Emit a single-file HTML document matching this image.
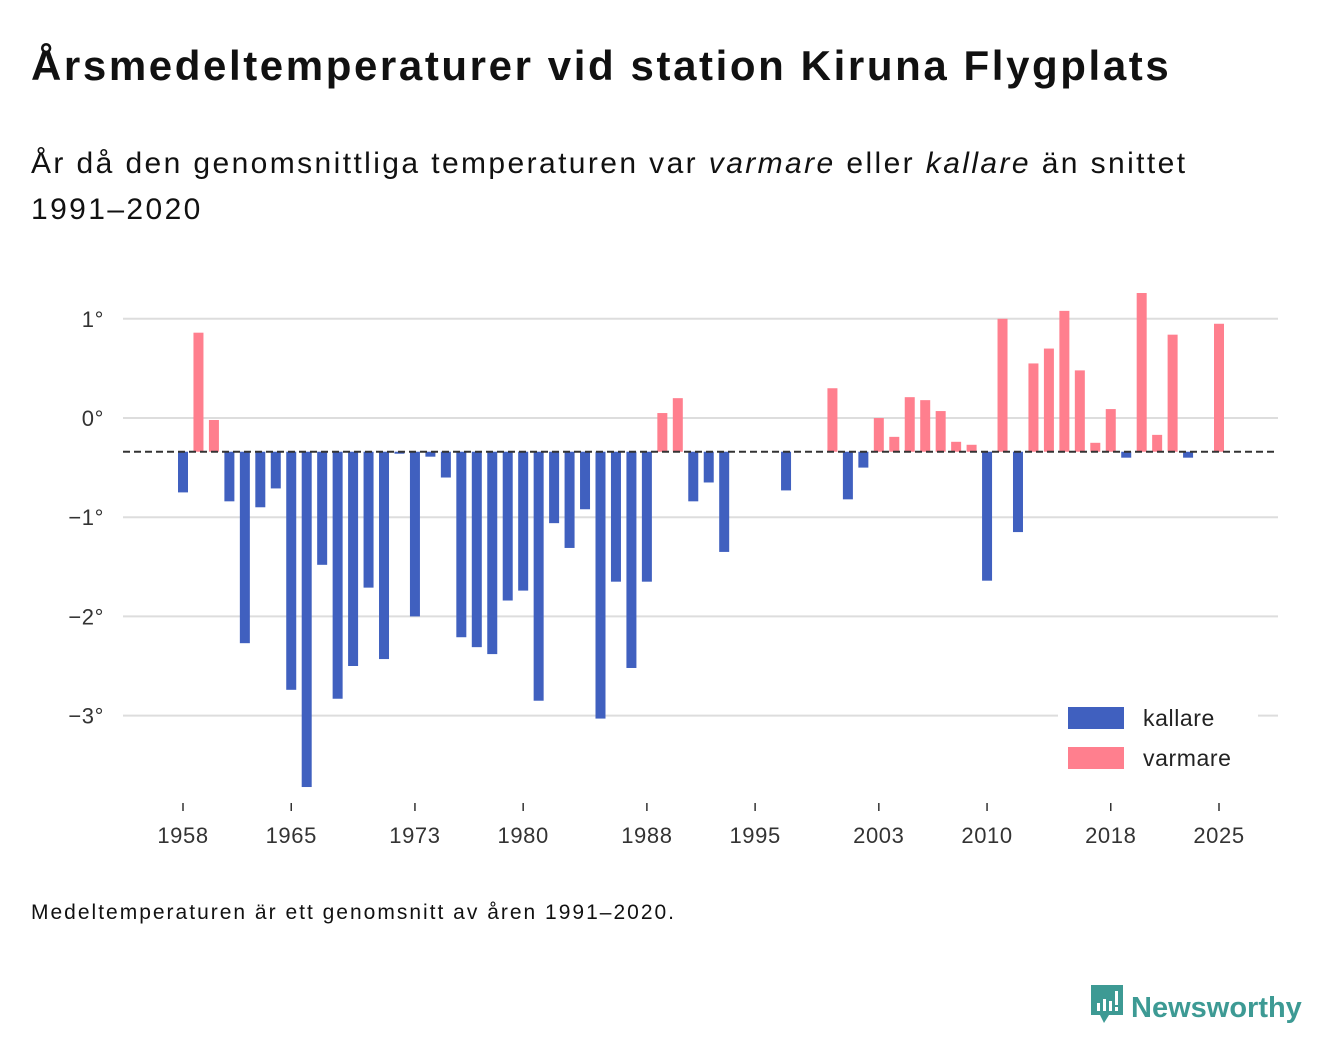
<!DOCTYPE html>
<html><head><meta charset="utf-8"><style>
body{margin:0;width:1340px;height:1056px;background:#fff;font-family:"Liberation Sans","DejaVu Sans",sans-serif;color:#111;overflow:hidden;position:relative}
.t{position:absolute;left:31px;top:42px;font-size:42px;letter-spacing:2.6px;font-weight:bold;margin:0;white-space:nowrap}
.s{position:absolute;left:31px;top:141px;font-size:30px;letter-spacing:2.4px;line-height:46px;width:1200px}
.f{position:absolute;left:31px;top:901px;font-size:21px;letter-spacing:2px}
.logo{position:absolute;left:1089px;top:983px;color:#3d9a94;font-weight:bold;font-size:29px}
text{letter-spacing:0.6px}
</style></head><body>
<h1 class="t">Årsmedeltemperaturer vid station Kiruna Flygplats</h1>
<div class="s">År då den genomsnittliga temperaturen var <i>varmare</i> eller <i>kallare</i> än snittet 1991–2020</div>
<svg id="c" width="1340" height="1056" style="position:absolute;left:0;top:0"></svg>
<div class="f">Medeltemperaturen är ett genomsnitt av åren 1991–2020.</div>
<div class="logo">
<svg width="36" height="42" style="vertical-align:-8px;margin-right:6px"><path d="M2 2h32v30H20l-5 8-4-8H2z" fill="#3d9a94"/><rect x="8" y="20" width="3" height="8" fill="#fff"/><rect x="14" y="16" width="3" height="12" fill="#fff"/><rect x="20" y="18" width="3" height="10" fill="#fff"/><rect x="26" y="8" width="3" height="14" fill="#fff"/><rect x="26" y="24" width="3" height="4" fill="#fff"/></svg>Newsworthy</div>
<script>
const years=[];for(let y=1958;y<=2025;y++)years.push(y);
const values=[-0.75,0.86,-0.02,-0.84,-2.27,-0.90,-0.71,-2.74,-3.72,-1.48,-2.83,-2.50,-1.71,-2.43,-0.36,-2.0,-0.39,-0.60,-2.21,-2.31,-2.38,-1.84,-1.74,-2.85,-1.06,-1.31,-0.92,-3.03,-1.65,-2.52,-1.65,0.05,0.20,-0.84,-0.65,-1.35,null,null,null,-0.73,null,null,0.30,-0.82,-0.50,0.0,-0.19,0.21,0.18,0.07,-0.24,-0.27,-1.64,1.0,-1.15,0.55,0.70,1.08,0.48,-0.25,0.09,-0.40,1.26,-0.17,0.84,-0.40,null,0.95];
const baseline=-0.34;
const yTicks=[1,0,-1,-2,-3];
const yLabels=["1°","0°","−1°","−2°","−3°"];
const xTicks=[1958,1965,1973,1980,1988,1995,2003,2010,2018,2025];
const svg=document.getElementById('c');const NS='http://www.w3.org/2000/svg';
const yS=v=>418-v*99.2;const xS=y=>183+(y-1958)*(1219-183)/67;
function mk(t,a){const e=document.createElementNS(NS,t);for(const k in a)e.setAttribute(k,a[k]);svg.appendChild(e);return e;}
yTicks.forEach((v,i)=>{const g=mk('line',{x1:123,x2:1278,y1:yS(v),y2:yS(v),stroke:'#ddd','stroke-width':2});


const t=mk('text',{x:104,y:yS(v)+8,'text-anchor':'end','font-size':22,fill:'#333'});t.textContent=yLabels[i];

});
years.forEach((y,i)=>{const v=values[i];if(v===null)return;const a=yS(v),b=yS(baseline);
const r=mk('rect',{x:xS(y)-5,y:Math.min(a,b),width:10,height:Math.abs(a-b),fill:v<baseline?'#4060bf':'#ff7f8e'});

});
const bl=mk('line',{x1:123,x2:1278,y1:yS(baseline),y2:yS(baseline),stroke:'#333','stroke-width':2,'stroke-dasharray':'7,4'});


xTicks.forEach(y=>{mk('line',{x1:xS(y),x2:xS(y),y1:803,y2:811,stroke:'#333','stroke-width':1.5});
const t=mk('text',{x:xS(y),y:843,'text-anchor':'middle','font-size':22,fill:'#333'});t.textContent=y;

});
mk('rect',{x:1058,y:700,width:200,height:80,fill:'#fff'});
[['kallare','#4060bf',707],['varmare','#ff7f8e',747]].forEach(([n,c,y])=>{
const r=mk('rect',{x:1068,y:y,width:56,height:22,fill:c});


const t=mk('text',{x:1143,y:y+19,'font-size':23,fill:'#222'});t.textContent=n;

});
</script>
</body></html>
